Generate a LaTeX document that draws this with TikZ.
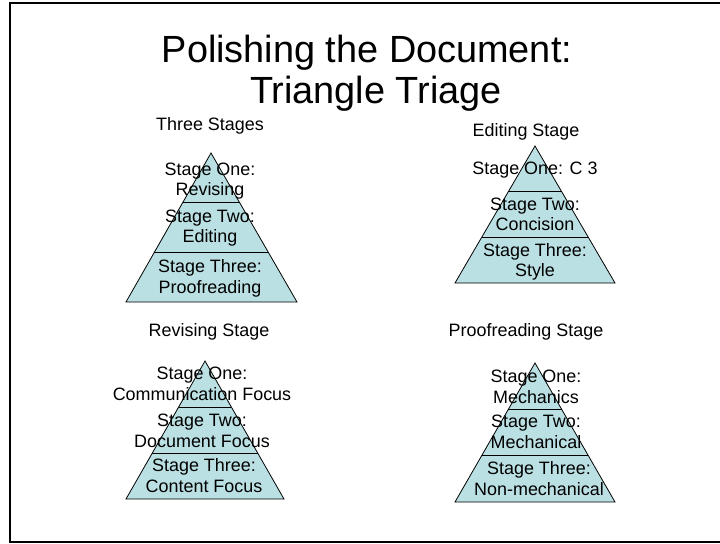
\documentclass[tikz,border=0pt]{standalone}
\usepackage{fontspec}
\setmainfont{Liberation Sans}
\usepackage{tikz}
\usetikzlibrary{calc}
\definecolor{pyramidfill}{RGB}{187, 224, 227}

\begin{document}
\begin{tikzpicture}[x=1bp, y=-1bp,
    stagetext/.style={align=center, inner sep=0pt, anchor=base, font=\fontsize{18}{20.7}\selectfont},
    titletext/.style={inner sep=0pt, anchor=base, font=\fontsize{38}{42}\selectfont},
    pyramid/.style={draw=black, fill=pyramidfill, line width=0.8bp}]
    \useasboundingbox (0,0) rectangle (720,544);
    \draw[line width=2bp] (10,3) rectangle (724,542);

    % title
    \node[titletext] (titleone) at (367,63) {Polishing the Document:};
    \node[titletext] (titletwo) at (376,104) {Triangle Triage};

    % Three Stages
    \node[stagetext] (threelbl) at (210,131) {Three Stages};
    \coordinate (ta) at (211,153);
    \coordinate (tl) at (126,302);
    \coordinate (tr) at (297,302);
    \filldraw[pyramid] (ta) -- (tl) -- (tr) -- cycle;
    \draw[pyramid] ($(ta)!1/3!(tl)$) -- ($(ta)!1/3!(tr)$);
    \draw[pyramid] ($(ta)!2/3!(tl)$) -- ($(ta)!2/3!(tr)$);
    % base anchor sits on the last line
    \node[stagetext] (tone) at (210,196) {Stage One:\\Revising};
    \node[stagetext] (ttwo) at (210,243) {Stage Two:\\Editing};
    \node[stagetext] (tthree) at (210,293) {Stage Three:\\Proofreading};

    % Editing Stage
    \node[stagetext] (editlbl) at (526,137) {Editing Stage};
    \coordinate (ea) at (535,146);
    \coordinate (el) at (455,283);
    \coordinate (er) at (615,283);
    \filldraw[pyramid] (ea) -- (el) -- (er) -- cycle;
    \draw[pyramid] ($(ea)!1/3!(el)$) -- ($(ea)!1/3!(er)$);
    \draw[pyramid] ($(ea)!2/3!(el)$) -- ($(ea)!2/3!(er)$);
    \node[stagetext] (eone) at (535,175) {Stage One: C 3};
    \node[stagetext] (etwo) at (535,231) {Stage Two:\\Concision};
    \node[stagetext] (ethree) at (535,277) {Stage Three:\\Style};

    % Revising Stage
    \node[stagetext] (revlbl) at (209,336) {Revising Stage};
    \coordinate (ra) at (205,361);
    \coordinate (rl) at (126,499);
    \coordinate (rr) at (284,499);
    \filldraw[pyramid] (ra) -- (rl) -- (rr) -- cycle;
    \draw[pyramid] ($(ra)!1/3!(rl)$) -- ($(ra)!1/3!(rr)$);
    \draw[pyramid] ($(ra)!2/3!(rl)$) -- ($(ra)!2/3!(rr)$);
    \node[stagetext] (rone) at (202,400) {Stage One:\\Communication Focus};
    \node[stagetext] (rtwo) at (202,447) {Stage Two:\\Document Focus};
    \node[stagetext] (rthree) at (204,492) {Stage Three:\\Content Focus};

    % Proofreading Stage
    \node[stagetext] (prooflbl) at (526,336) {Proofreading Stage};
    \coordinate (pa) at (535,363);
    \coordinate (pl) at (455,502);
    \coordinate (pr) at (615,502);
    \filldraw[pyramid] (pa) -- (pl) -- (pr) -- cycle;
    \draw[pyramid] ($(pa)!1/3!(pl)$) -- ($(pa)!1/3!(pr)$);
    \draw[pyramid] ($(pa)!2/3!(pl)$) -- ($(pa)!2/3!(pr)$);
    \node[stagetext] (pone) at (536,403) {Stage One:\\Mechanics};
    \node[stagetext] (ptwo) at (536,448) {Stage Two:\\Mechanical};
    \node[stagetext] (pthree) at (539,495) {Stage Three:\\Non-mechanical};
\end{tikzpicture}
\end{document}
